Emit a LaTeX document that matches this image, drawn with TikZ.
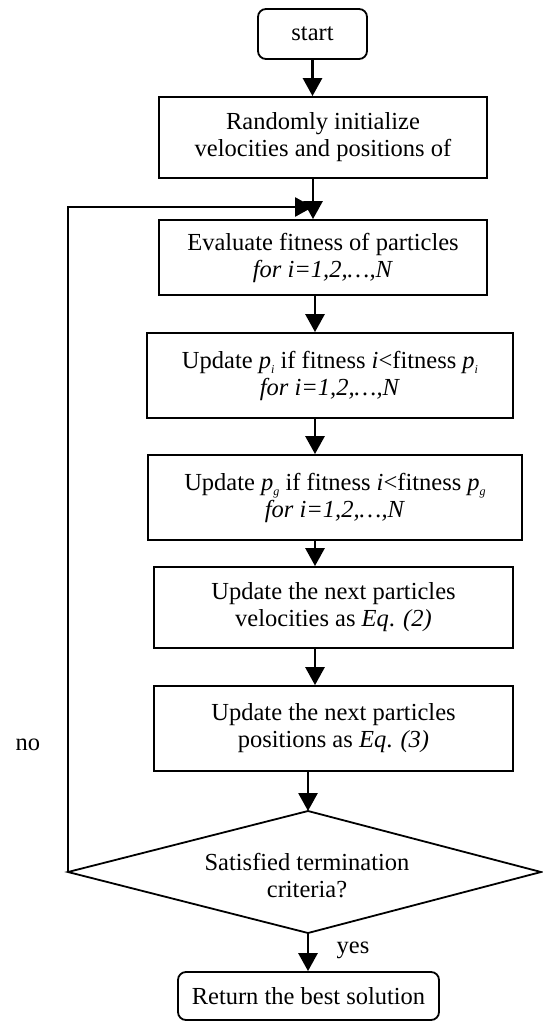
\documentclass[tikz,border=0pt]{standalone}
\usepackage{fontspec}
\setmainfont{Liberation Serif}
\usetikzlibrary{arrows.meta}
\newcommand{\figfont}{\fontsize{24.5pt}{27pt}\selectfont}
\newcommand{\sub}[1]{\raisebox{-5pt}{\fontsize{12pt}{12pt}\selectfont\textit{#1}}}
\begin{document}
\begin{tikzpicture}[x=1pt,y=-1pt,
  proc/.style={draw, line width=1.8pt, inner sep=0pt, align=center, font=\figfont},
  term/.style={proc, rounded corners=8pt},
  decline/.style={draw, line width=1.8pt, line join=miter},
  arr/.style={line width=2.8pt, -{Triangle[length=18pt,width=19pt]}},
  lab/.style={font=\figfont, inner sep=0pt}]
\useasboundingbox (0,0) rectangle (542,1024);
\node[term, minimum width=109pt, minimum height=50pt] (start) at (312.5,34) {start};
\node[proc, minimum width=328pt, minimum height=81pt] (b2) at (323,137.5) {Randomly initialize\\velocities and positions of};
\node[proc, minimum width=328pt, minimum height=75pt] (b3) at (323,257.5) {Evaluate fitness of particles\\\textit{for i=1,2,\dots,N}};
\node[proc, minimum width=366pt, minimum height=85pt] (b4) at (330,375.5) {Update \textit{p}\sub{i} if fitness \textit{i}<fitness \textit{p}\sub{i}\\\textit{for i=1,2,\dots,N}};
\node[proc, minimum width=374pt, minimum height=85pt] (b5) at (335,497.5) {Update \textit{p}\sub{g} if fitness \textit{i}<fitness \textit{p}\sub{g}\\\textit{for i=1,2,\dots,N}};
\node[proc, minimum width=359pt, minimum height=81pt] (b6) at (333.5,607.5) {Update the next particles\\velocities as \textit{Eq}. \textit{(2)}};
\node[proc, minimum width=359pt, minimum height=85pt] (b7) at (333.5,728.5) {Update the next particles\\positions as \textit{Eq}. \textit{(3)}};
% decision diamond
\coordinate (dT) at (308,811);
\coordinate (dR) at (541,872);
\coordinate (dB) at (308,933);
\coordinate (dL) at (68,872);
\draw[decline] (dT) -- (dR) -- (dB) -- (dL) -- cycle;
\node[lab, align=center] (d) at (307,876) {Satisfied termination\\criteria?};
\node[term, minimum width=261pt, minimum height=48pt] (ret) at (308.5,996) {Return the best solution};
\node[lab] (no) at (28,745) {no};
\node[lab] (yes) at (353,950) {yes};
\coordinate (ax1) at (313,0);
\coordinate (ax2) at (315,0);
\coordinate (ax3) at (308,0);
\coordinate (lj) at (313,207);
\draw[arr] (start.south) -- (start.south |- b2.north);
\draw[arr] (ax1 |- b2.south) -- (ax1 |- b3.north);
\draw[arr] (ax2 |- b3.south) -- (ax2 |- b4.north);
\draw[arr] (ax2 |- b4.south) -- (ax2 |- b5.north);
\draw[arr] (ax2 |- b5.south) -- (ax2 |- b6.north);
\draw[arr] (ax2 |- b6.south) -- (ax2 |- b7.north);
\draw[arr] (ax3 |- b7.south) -- (dT);
\draw[arr] (dB) -- (ax3 |- ret.north);
\draw[arr] (dL) |- (lj);
\end{tikzpicture}
\end{document}
